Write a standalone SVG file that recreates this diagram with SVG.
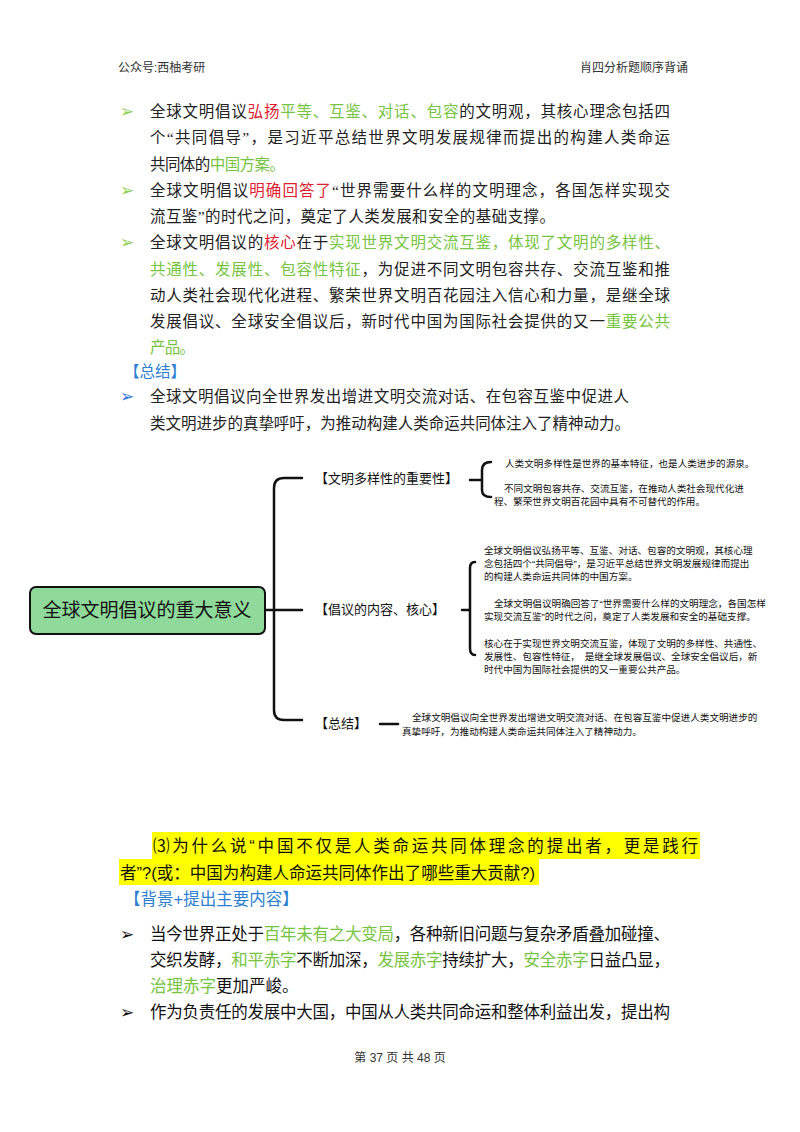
<svg xmlns="http://www.w3.org/2000/svg" width="800" height="1132" viewBox="0 0 800 1132">
<style>
.s{font-family:"Liberation Serif","Noto Sans CJK SC",serif;fill:#222}
.h{font-family:"Liberation Sans","Noto Sans CJK SC",sans-serif;fill:#333;font-size:12px}
.b{font-size:15.5px}
.g{fill:#76c442}.r{fill:#e0202e}.bl{fill:#2e7fd1}
.m{font-family:"Liberation Sans","Noto Sans CJK SC",sans-serif;fill:#111}
.t{font-size:9.6px}
.ln{stroke:#111;stroke-width:2.5;fill:none;stroke-linecap:round}
</style>
<rect width="800" height="1132" fill="#fff"/>
<text class="h" x="118" y="72">公众号:西柚考研</text>
<text class="h" x="688" y="72" text-anchor="end">肖四分析题顺序背诵</text>
<g font-size="17" font-family="DejaVu Sans,sans-serif">
<text x="120" y="117" fill="#8fd14f">➢</text>
<text x="120" y="196" fill="#8fd14f">➢</text>
<text x="120" y="248" fill="#8fd14f">➢</text>
<text x="120" y="402" fill="#2e75d6">➢</text>
<text x="120" y="940" fill="#111">➢</text>
<text x="120" y="1018" fill="#111">➢</text>
</g>
<g class="s b">
<text x="150" y="117" textLength="520" lengthAdjust="spacing">全球文明倡议<tspan class="r">弘扬</tspan><tspan class="g">平等、互鉴、对话、包容</tspan>的文明观，其核心理念包括四</text>
<text x="150" y="143" textLength="520" lengthAdjust="spacing">个“共同倡导”，是习近平总结世界文明发展规律而提出的构建人类命运</text>
<text x="150" y="170" textLength="135" lengthAdjust="spacing">共同体的<tspan class="g">中国方案。</tspan></text>
<text x="150" y="196" textLength="520" lengthAdjust="spacing">全球文明倡议<tspan class="r">明确回答了</tspan>“世界需要什么样的文明理念，各国怎样实现交</text>
<text x="150" y="222" textLength="405" lengthAdjust="spacing">流互鉴”的时代之问，奠定了人类发展和安全的基础支撑。</text>
<text x="150" y="248" textLength="520" lengthAdjust="spacing">全球文明倡议的<tspan class="r">核心</tspan>在于<tspan class="g">实现世界文明交流互鉴，体现了文明的多样性、</tspan></text>
<text x="150" y="275" textLength="520" lengthAdjust="spacing"><tspan class="g">共通性、发展性、包容性特征</tspan>，为促进不同文明包容共存、交流互鉴和推</text>
<text x="150" y="301" textLength="520" lengthAdjust="spacing">动人类社会现代化进程、繁荣世界文明百花园注入信心和力量，是继全球</text>
<text x="150" y="327" textLength="520" lengthAdjust="spacing">发展倡议、全球安全倡议后，新时代中国为国际社会提供的又一<tspan class="g">重要公共</tspan></text>
<text x="150" y="353" class="g" textLength="45" lengthAdjust="spacing">产品。</text>
<text x="124" y="377" class="bl">【总结】</text>
<text x="150" y="402" textLength="479" lengthAdjust="spacing">全球文明倡议向全世界发出增进文明交流对话、在包容互鉴中促进人</text>
<text x="150" y="429" textLength="480" lengthAdjust="spacing">类文明进步的真挚呼吁，为推动构建人类命运共同体注入了精神动力。</text>
</g>
<g id="connectors">
<path class="ln" d="M265 610 H274 M302 478 H284 Q274 478 274 488 V710 Q274 720 284 720 H302 M274 610 H302"/>
<path class="ln" d="M470 480 H482 M491 462 Q482 462 482 470 V490 Q482 497 491 497" stroke-width="2"/>
<path class="ln" d="M462 610 H470 M475 562 Q470 562 470 568 V648 Q470 655 475 655"/>
<path class="ln" d="M380 724 H398" stroke-width="2"/>
</g>
<g id="root"><rect x="30" y="587" width="235" height="47" rx="6" fill="#8fd99a" stroke="#111" stroke-width="2"/>
<text class="m" x="147" y="617" font-size="19" text-anchor="middle">全球文明倡议的重大意义</text></g>
<g id="n1"><text class="m" x="315" y="483" font-size="13">【文明多样性的重要性】</text>
<text class="m t" x="505" y="467">人类文明多样性是世界的基本特征，也是人类进步的源泉。</text>
<text class="m t" x="504" y="492">不同文明包容共存、交流互鉴，在推动人类社会现代化进</text>
<text class="m t" x="494" y="505">程、繁荣世界文明百花园中具有不可替代的作用。</text></g>
<g id="n2"><text class="m" x="315" y="614" font-size="13">【倡议的内容、核心】</text>
<text class="m t" x="484" y="554">全球文明倡议弘扬平等、互鉴、对话、包容的文明观，其核心理</text>
<text class="m t" x="484" y="567">念包括四个“共同倡导”，是习近平总结世界文明发展规律而提出</text>
<text class="m t" x="484" y="580">的构建人类命运共同体的中国方案。</text>
<text class="m t" x="494" y="607">全球文明倡议明确回答了“世界需要什么样的文明理念，各国怎样</text>
<text class="m t" x="484" y="620">实现交流互鉴”的时代之问，奠定了人类发展和安全的基础支撑。</text>
<text class="m t" x="484" y="647">核心在于实现世界文明交流互鉴，体现了文明的多样性、共通性、</text>
<text class="m t" x="484" y="660">发展性、包容性特征，　是继全球发展倡议、全球安全倡议后，新</text>
<text class="m t" x="484" y="673">时代中国为国际社会提供的又一重要公共产品。</text></g>
<g id="n3"><text class="m" x="315" y="728" font-size="13">【总结】</text>
<text class="m t" x="412" y="721">全球文明倡议向全世界发出增进文明交流对话、在包容互鉴中促进人类文明进步的</text>
<text class="m t" x="402" y="735">真挚呼吁，为推动构建人类命运共同体注入了精神动力。</text></g>
<rect x="152" y="832" width="548" height="27" fill="#ffff00"/>
<rect x="119" y="859" width="420" height="26" fill="#ffff00"/>
<g class="m" font-size="16.5">
<text x="153" y="852" textLength="545" lengthAdjust="spacing">⑶为什么说“中国不仅是人类命运共同体理念的提出者，更是践行</text>
<text x="120" y="879" textLength="415" lengthAdjust="spacing">者”?(或：中国为构建人命运共同体作出了哪些重大贡献?)</text>
<text x="124" y="905" fill="#2e7fd1">【背景+提出主要内容】</text>
<text x="150" y="940" textLength="520" lengthAdjust="spacing">当今世界正处于<tspan class="g">百年未有之大变局</tspan>，各种新旧问题与复杂矛盾叠加碰撞、</text>
<text x="150" y="966" textLength="520" lengthAdjust="spacing">交织发酵，<tspan class="g">和平赤字</tspan>不断加深，<tspan class="g">发展赤字</tspan>持续扩大，<tspan class="g">安全赤字</tspan>日益凸显，</text>
<text x="150" y="992"><tspan class="g">治理赤字</tspan>更加严峻。</text>
<text x="150" y="1018" textLength="520" lengthAdjust="spacing">作为负责任的发展中大国，中国从人类共同命运和整体利益出发，提出构</text>
</g>
<text class="h" x="400" y="1062" text-anchor="middle" fill="#111">第 37 页 共 48 页</text>
</svg>
